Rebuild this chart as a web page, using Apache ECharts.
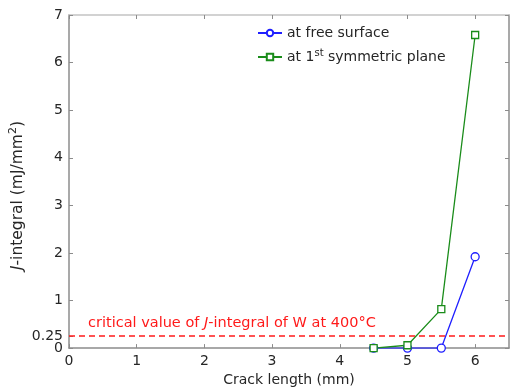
<!DOCTYPE html>
<html><head><meta charset="utf-8">
<script src="https://cdn.jsdelivr.net/npm/echarts@6/dist/echarts.min.js"></script>
<style>html,body{margin:0;padding:0;background:#fff}#c{width:510px;height:392px}</style>
</head><body><div id="c"></div>
<script>
const crackLength = [4.5, 5.0, 5.5, 6.0];
const freeSurface = [0, 0, 0, 1.92];
const symPlane = [0, 0.06, 0.82, 6.58];
const xTicks = [0, 1, 2, 3, 4, 5, 6];
const yTicks = [0, 1, 2, 3, 4, 5, 6, 7];
const criticalJ = 0.25;
const extraYTicks = [criticalJ];

const chart = echarts.init(document.getElementById('c'));
const font = 'DejaVu Sans, sans-serif';
const axisGray = '#8c8c8c';
const txt = '#262626';
chart.setOption({
  animation: false,
  grid: {left: 67, right: 1, top: 15, bottom: 41},
  legend: {
    left: 257, top: 26, padding: 0, orient: 'vertical', itemGap: 8,
    itemWidth: 24, itemHeight: 8,
    textStyle: {fontFamily: font, fontSize: 14, color: txt,
      rich: {a: {fontFamily: font, fontSize: 14, color: txt},
             s: {fontFamily: font, fontSize: 10, color: txt, verticalAlign: 'top', padding: [0,0,8,0]}}},
    formatter: function (n) { return n === 'sym' ? '{a|at 1}{s|st}{a| symmetric plane}' : '{a|at free surface}'; },
    data: ['free', 'sym']
  },
  xAxis: [{
    type: 'value', min: 0, max: 6.5, interval: 1,
    axisLine: {onZero: false, lineStyle: {color: axisGray, width: 1.5}},
    axisTick: {inside: true, length: 4, lineStyle: {color: axisGray}, customValues: xTicks},
    axisLabel: {fontFamily: font, fontSize: 14, color: txt, margin: 6, customValues: xTicks, showMinLabel: true},
    splitLine: {show: false},
    name: 'Crack length (mm)', nameLocation: 'middle', nameGap: 23,
    nameTextStyle: {fontFamily: font, fontSize: 14, color: txt}
  }, {
    type: 'value', min: 0, max: 6.5, position: 'top',
    axisLine: {show: true, onZero: false, lineStyle: {color: '#c4c4c4', width: 1.5}},
    axisTick: {show: true, inside: true, length: 4, lineStyle: {color: axisGray}, customValues: xTicks},
    axisLabel: {show: false}, splitLine: {show: false}
  }],
  yAxis: [{
    type: 'value', min: 0, max: 7,
    axisLine: {show: true, onZero: false, lineStyle: {color: axisGray, width: 1.5}},
    axisTick: {show: true, inside: true, length: 4, lineStyle: {color: axisGray}, customValues: yTicks},
    axisLabel: {fontFamily: font, fontSize: 14, color: txt, margin: 6, customValues: yTicks, showMinLabel: true},
    splitLine: {show: false},
    name: '{i|J}-integral (mJ/mm{s|2})', nameLocation: 'middle', nameGap: 41,
    nameTextStyle: {fontFamily: font, fontSize: 15.5, color: txt, padding: [0, 28, 0, 0],
      rich: {i: {fontFamily: font, fontSize: 15.5, fontStyle: 'italic', color: txt},
             s: {fontFamily: font, fontSize: 11, color: txt, verticalAlign: 'top', padding: [0,0,9,0]}}}
  }, {
    type: 'value', min: 0, max: 7, position: 'right',
    axisLine: {show: true, onZero: false, lineStyle: {color: axisGray, width: 1.5}},
    axisTick: {show: true, inside: true, length: 4, lineStyle: {color: axisGray}, customValues: yTicks},
    axisLabel: {show: false}, splitLine: {show: false}
  }, {
    type: 'value', min: 0, max: 7, position: 'left',
    axisLine: {show: false, onZero: false},
    axisTick: {show: true, inside: true, length: 4, lineStyle: {color: axisGray}, customValues: extraYTicks},
    axisLabel: {fontFamily: font, fontSize: 14, color: txt, margin: 6, customValues: extraYTicks, showMinLabel: true, showMaxLabel: true},
    splitLine: {show: false}
  }],
  series: [{
    name: 'free', type: 'line',
    data: crackLength.map((x, i) => [x, freeSurface[i]]),
    symbol: 'circle', symbolSize: 8, showAllSymbol: true,
    itemStyle: {color: '#fff', borderColor: '#1f1fff', borderWidth: 1.3},
    lineStyle: {color: '#1f1fff', width: 1.3},
    markLine: {
      silent: true, symbol: 'none', animation: false,
      lineStyle: {color: '#ff1a1a', type: [6, 4], width: 1.5},
      label: {
        position: 'insideStartTop', distance: [19, 5],
        formatter: '{r|critical value of }{i|J}{r|-integral of W at 400°C}',
        rich: {r: {fontFamily: font, fontSize: 14.5, color: '#ff1a1a'},
               i: {fontFamily: font, fontSize: 14.5, color: '#ff1a1a', fontStyle: 'italic'}}
      },
      data: [{yAxis: criticalJ}]
    }
  }, {
    name: 'sym', type: 'line',
    data: crackLength.map((x, i) => [x, symPlane[i]]),
    symbol: 'rect', symbolSize: 7, showAllSymbol: true,
    itemStyle: {color: '#fff', borderColor: '#1a8c1a', borderWidth: 1.3},
    lineStyle: {color: '#1a8c1a', width: 1.3}
  }]
});
</script></body></html>
